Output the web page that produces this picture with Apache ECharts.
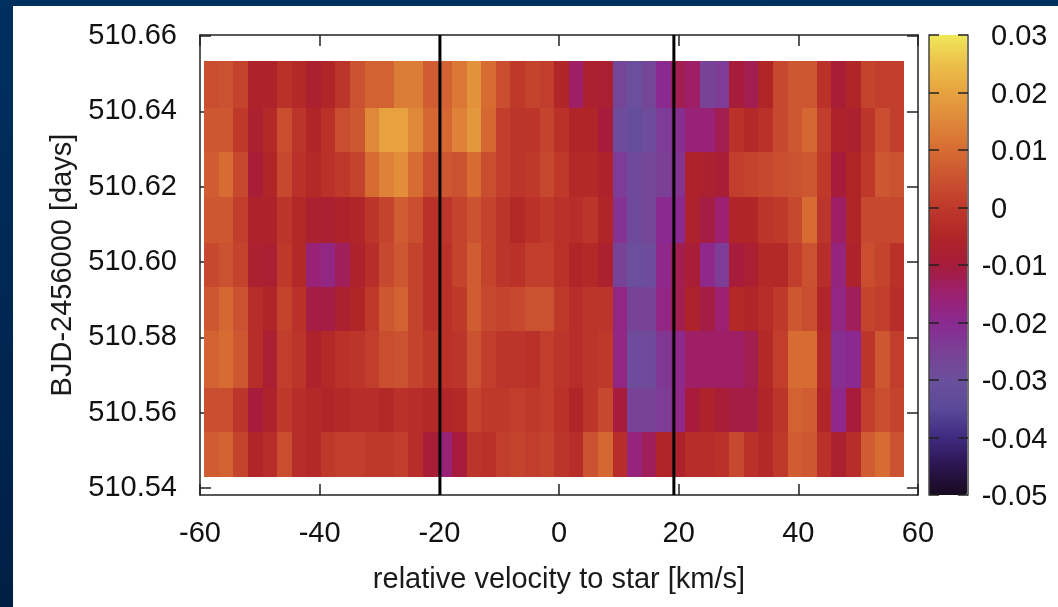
<!DOCTYPE html>
<html>
<head>
<meta charset="utf-8">
<title>relative velocity map</title>
<script src="https://cdn.jsdelivr.net/npm/echarts@6/dist/echarts.min.js"></script>
<style>
html, body { margin: 0; height: 100%; overflow: hidden; background: linear-gradient(#003060, #001f45); }
#panel { position: absolute; left: 13px; top: 6px; right: 0; bottom: 0; background: #fff; }
#main { position: absolute; left: 0; top: 0; width: 1058px; height: 607px; }
</style>
</head>
<body>
<div id="panel"></div>
<div id="main"></div>
<script>
// bin edges of the map, km/s
var velocityEdges = [-59.3, -56.86, -54.43, -51.99, -49.55, -47.11, -44.68, -42.24, -39.8, -37.36, -34.93, -32.49,
  -30.05, -27.61, -25.18, -22.74, -20.3, -17.86, -15.43, -12.99, -10.55, -8.11, -5.68, -3.24,
  -0.8, 1.64, 4.07, 6.51, 8.95, 11.39, 13.82, 16.26, 18.7, 21.14, 23.57, 26.01,
  28.45, 30.89, 33.32, 35.76, 38.2, 40.64, 43.07, 45.51, 47.95, 50.39, 52.82, 55.26, 57.7];
// exposure edges, top to bottom (uneven)
var timeEdges = [510.6535, 510.641, 510.6293, 510.6173, 510.6051, 510.5934, 510.5817, 510.5665, 510.5548, 510.54285];
var row0 = [.004,.005,.002,-.006,-.006,-.002,-.004,-.007,-.005,-.001,.005,.008,.008,.013,.013,.007,.008,.012,.017,.010,.004,.000,.002,.001,-.005,-.014,-.007,-.008,-.027,-.030,-.027,-.020,-.012,-.014,-.026,-.024,-.010,-.012,-.005,.003,.006,.006,-.002,-.009,-.005,.002,.001,.001];
var row1 = [.006,.006,.000,-.007,-.004,.004,-.001,-.005,-.002,.004,.006,.015,.020,.020,.015,.009,.009,.014,.018,.009,.001,-.001,-.001,.002,-.002,-.005,-.005,-.010,-.029,-.032,-.029,-.024,-.021,-.016,-.016,-.012,-.002,-.004,-.002,.003,.006,.009,.001,-.006,-.007,-.001,.004,.001];
var row2 = [.007,.010,.003,-.009,-.005,.003,-.002,-.004,-.002,.000,.002,.010,.014,.016,.010,.004,.006,.005,.010,.004,.001,-.001,.000,.003,.000,-.004,-.004,-.006,-.024,-.028,-.027,-.025,-.022,-.006,-.007,-.009,.001,.002,.003,.004,.005,.006,.000,-.010,-.005,.000,.006,.005];
var row3 = [.006,.006,.001,-.006,-.006,-.001,-.004,-.007,-.008,-.006,-.005,-.001,.002,.007,.004,-.002,-.001,.002,.005,.002,-.001,-.004,-.002,.000,-.002,-.003,-.001,-.005,-.022,-.028,-.027,-.020,-.020,-.006,-.011,-.015,-.005,-.005,-.001,.000,.003,.010,-.001,-.014,-.005,.003,.003,.003];
var row4 = [.003,.005,.002,-.007,-.008,.000,-.004,-.016,-.018,-.013,-.006,-.003,.003,.006,.002,-.002,-.002,.002,.007,.002,-.001,-.002,.001,.001,-.002,-.005,-.004,-.007,-.026,-.030,-.029,-.019,-.012,-.009,-.019,-.024,-.010,-.008,-.004,-.004,.001,.005,-.003,-.017,-.006,.004,.002,-.002];
var row5 = [.006,.009,.005,-.003,-.005,.002,-.002,-.011,-.011,-.007,-.005,.000,.006,.008,.002,-.002,-.002,.000,.007,.003,.002,.003,.005,.005,.000,-.003,-.001,-.001,-.018,-.026,-.026,-.018,-.012,-.006,-.011,-.015,-.004,-.005,-.003,.000,.006,.004,-.005,-.018,-.013,.002,.001,-.003];
var row6 = [.008,.010,.006,-.003,-.008,.001,-.001,-.006,-.004,-.002,-.001,.001,.004,.005,.002,.000,-.002,-.001,.005,.001,-.001,-.001,-.002,.001,-.001,-.003,-.001,.000,-.018,-.029,-.028,-.023,-.019,-.014,-.014,-.014,-.014,-.012,-.004,.001,.010,.010,-.004,-.021,-.020,-.001,.006,.001];
var row7 = [.004,.004,-.001,-.010,-.006,.000,-.003,-.004,-.005,-.004,-.003,-.003,-.004,-.002,-.003,-.004,-.005,-.004,.002,.000,.000,.001,.000,.001,-.002,-.005,-.001,.003,-.010,-.026,-.026,-.024,-.019,-.010,-.006,-.009,-.011,-.011,-.005,-.001,.008,.007,-.005,-.019,-.010,.001,.004,.002];
var row8 = [.007,.008,.002,-.005,-.003,.004,-.003,-.004,.000,.001,.001,.000,.000,.001,-.003,-.009,-.016,-.010,-.001,-.002,.001,.002,.001,.002,-.001,-.003,.005,.009,-.003,-.017,-.013,-.005,-.006,-.003,-.003,-.002,.003,-.002,-.004,.000,.007,.006,-.002,-.007,-.003,.007,.010,.005];
var rows = [row0, row1, row2, row3, row4, row5, row6, row7, row8];
// transit limits
var limitLines = [-19.9, 19.2];
var timeTicks = [510.54, 510.56, 510.58, 510.60, 510.62, 510.64, 510.66];
// colour scale stops, -0.05 .. 0.03 every 0.005
var scaleColors = ['#180a1e', '#2b1550', '#3f2a80', '#5a4a98', '#6a509c', '#7a4096', '#8a2a90', '#9c2070', '#a61c3a',
  '#b02527', '#bf392b', '#cb5230', '#d76c33', '#df8839', '#e7a23f', '#ecc04a', '#efe858'];

var cells = [];
rows.forEach(function(row, r) {
  row.forEach(function(v, c) {
    cells.push([velocityEdges[c], velocityEdges[c + 1], timeEdges[r + 1], timeEdges[r], v]);
  });
});

var fontName = '"Liberation Sans", Arial, sans-serif';
var tickFont = 29;
var yMin = 510.5381, yMax = 510.6603;
var frameLine = { color: '#222', width: 1.5 };

var myChart = echarts.init(document.getElementById('main'), null, { renderer: 'canvas' });
var option = {
  animation: false,
  backgroundColor: 'transparent',
  textStyle: { fontFamily: fontName },
  grid: [
    { left: 200, right: 140, top: 35, bottom: 112, show: false },
    { left: 929, right: 90, top: 35, bottom: 112, show: false }
  ],
  xAxis: [
    {
      type: 'value', gridIndex: 0, min: -60, max: 60, interval: 20,
      name: 'relative velocity to star [km/s]', nameLocation: 'middle', nameGap: 70,
      nameTextStyle: { fontSize: 29, color: '#1a1a1a', fontFamily: fontName },
      axisLine: { onZero: false, lineStyle: frameLine },
      axisTick: { inside: true, length: 11, lineStyle: frameLine },
      axisLabel: { fontSize: tickFont, color: '#111', margin: 24, fontFamily: fontName },
      splitLine: { show: false }
    },
    {
      type: 'value', gridIndex: 0, position: 'top', min: -60, max: 60, interval: 20,
      axisLine: { onZero: false, lineStyle: frameLine },
      axisTick: { inside: true, length: 11, lineStyle: frameLine },
      axisLabel: { show: false }, splitLine: { show: false }
    },
    {
      type: 'value', gridIndex: 1, min: 0, max: 1, show: false
    }
  ],
  yAxis: [
    {
      type: 'value', gridIndex: 0, min: yMin, max: yMax,
      name: 'BJD-2456000 [days]', nameLocation: 'middle', nameGap: 118, nameRotate: 90,
      nameTextStyle: { fontSize: 29, color: '#1a1a1a', fontFamily: fontName },
      axisLine: { onZero: false, lineStyle: frameLine },
      axisTick: { customValues: timeTicks, inside: true, length: 11, lineStyle: frameLine },
      axisLabel: {
        customValues: timeTicks,
        fontSize: tickFont, color: '#111', margin: 23, fontFamily: fontName,
        formatter: function(v) { return v.toFixed(2); }
      },
      splitLine: { show: false }
    },
    {
      type: 'value', gridIndex: 0, position: 'right', min: yMin, max: yMax,
      axisLine: { onZero: false, lineStyle: frameLine },
      axisTick: { customValues: timeTicks, inside: true, length: 11, lineStyle: frameLine },
      axisLabel: { show: false }, splitLine: { show: false }
    },
    // colour bar scale
    {
      type: 'value', gridIndex: 1, position: 'right', min: -0.05, max: 0.03, interval: 0.01, z: 10,
      axisLine: { onZero: false, lineStyle: { color: '#444', width: 1.5 } },
      axisTick: { inside: true, length: 10, lineStyle: frameLine },
      axisLabel: {
        margin: 14,
        padding: [4, 0, 0, 0],
        formatter: function(v) {
          var s = Math.abs(v) < 1e-9 ? '0' : Math.abs(v).toFixed(2);
          return '{m|' + (v < -1e-9 ? '-' : '') + '}{n|' + s + '}';
        },
        rich: {
          m: { width: 9, fontSize: tickFont, color: '#111', align: 'right', fontFamily: fontName },
          n: { fontSize: tickFont, color: '#111', fontFamily: fontName }
        }
      },
      splitLine: { show: false }
    },
    {
      type: 'value', gridIndex: 1, position: 'left', min: -0.05, max: 0.03, interval: 0.01, z: 10,
      axisLine: { onZero: false, lineStyle: { color: '#444', width: 1.5 } },
      axisTick: { inside: true, length: 10, lineStyle: frameLine },
      axisLabel: { show: false }, splitLine: { show: false }
    }
  ],
  visualMap: {
    type: 'continuous', min: -0.05, max: 0.03, dimension: 4, seriesIndex: 0,
    orient: 'vertical', left: 929, top: 35, itemWidth: 38, itemHeight: 460,
    padding: 0, text: null, calculable: false, showLabel: false, realtime: false, hoverLink: false,
    inRange: { color: scaleColors }
  },
  series: [
    {
      type: 'custom',
      xAxisIndex: 0, yAxisIndex: 0, z: 2,
      encode: { x: [0, 1], y: [2, 3] },
      data: cells,
      renderItem: function(params, api) {
        var p0 = api.coord([api.value(0), api.value(3)]);
        var p1 = api.coord([api.value(1), api.value(2)]);
        // snap to whole pixels so neighbouring cells leave no seams
        var x0 = Math.round(p0[0]), y0 = Math.round(p0[1]);
        return {
          type: 'rect',
          shape: { x: x0, y: y0, width: Math.round(p1[0]) - x0, height: Math.round(p1[1]) - y0 },
          style: { fill: api.visual('color') }
        };
      }
    },
    {
      type: 'line', xAxisIndex: 0, yAxisIndex: 0, z: 5, symbol: 'none',
      lineStyle: { color: '#000', width: 3 },
      data: [[limitLines[0], yMin], [limitLines[0], yMax]]
    },
    {
      type: 'line', xAxisIndex: 0, yAxisIndex: 0, z: 5, symbol: 'none',
      lineStyle: { color: '#000', width: 3 },
      data: [[limitLines[1], yMin], [limitLines[1], yMax]]
    }
  ]
};
myChart.setOption(option);
</script>
</body>
</html>
